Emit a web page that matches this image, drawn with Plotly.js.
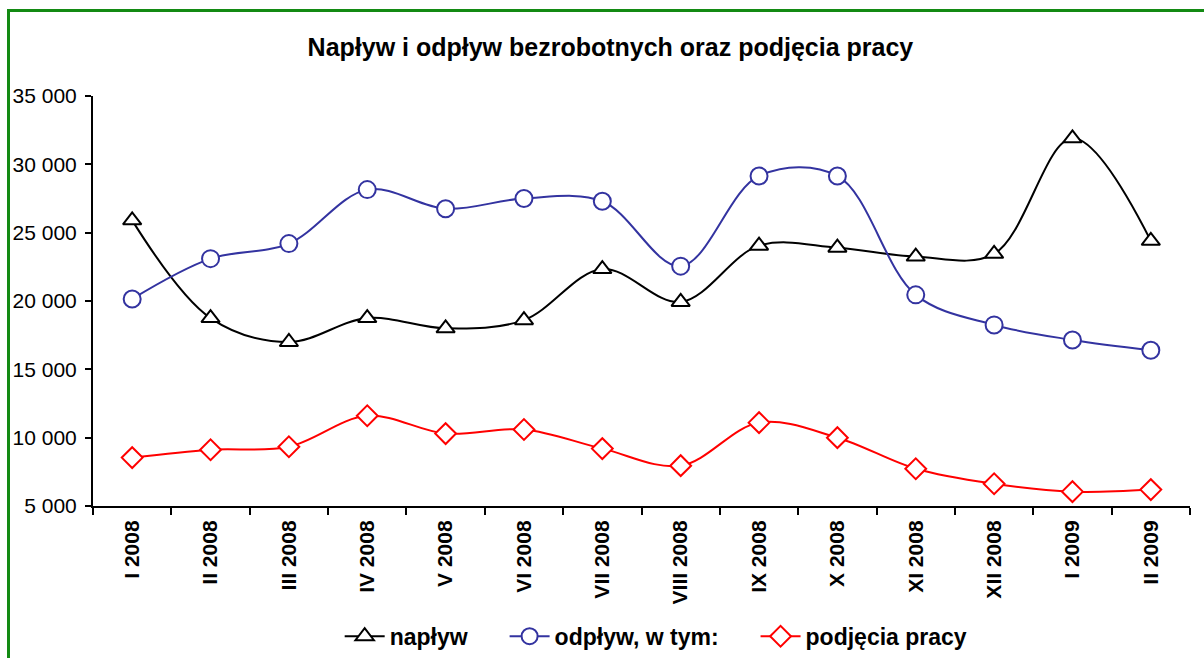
<!DOCTYPE html>
<html><head><meta charset="utf-8">
<script src="https://cdn.plot.ly/plotly-3.0.1.min.js"></script>
<style>
body{margin:0;padding:0;background:#fff;}
#frame{position:absolute;left:7px;top:9px;width:1300px;height:800px;border:3px solid #138a13;box-sizing:border-box;pointer-events:none;z-index:5;}
#chart{position:absolute;left:0;top:0;width:1204px;height:658px;}
</style></head>
<body>
<div id="chart"></div>
<div id="frame"></div>
<script>
const categories = ["I 2008","II 2008","III 2008","IV 2008","V 2008","VI 2008","VII 2008","VIII 2008","IX 2008","X 2008","XI 2008","XII 2008","I 2009","II 2009"];
const naplyw = [25900,18750,17000,18750,18000,18600,22340,19930,24050,23900,23250,23450,31900,24400];
const odplyw = [20150,23100,24200,28150,26750,27500,27300,22550,29150,29150,20450,18250,17150,16400];
const podjecia = [8540,9120,9340,11600,10300,10600,9200,7950,11100,10000,7730,6630,6050,6200];
const yTicks = [5000,10000,15000,20000,25000,30000,35000];
const seriesNames = ['napływ', 'odpływ, w tym:', 'podjęcia pracy'];

const SP = '&nbsp;&nbsp;&nbsp;&nbsp;&nbsp;';
function tr(name, y, color, symbol, size, last){
  return {x:categories, y:y, name:'<b>'+name+'</b>'+(last?'':SP), type:'scatter', mode:'lines+markers',
    line:{color:color, width:2, shape:'spline', smoothing:1},
    marker:{symbol:symbol, size:size, color:'#ffffff', line:{color:color, width:2}}};
}
const data = [
  tr(seriesNames[0], naplyw, '#000000', 'triangle-up', 16),
  tr(seriesNames[1], odplyw, '#3333a0', 'circle', 17),
  tr(seriesNames[2], podjecia, '#ff0000', 'diamond', 16, true)
];
const FONT = 'Liberation Sans, Arial, sans-serif';
const layout = {
  width:1204, height:658,
  margin:{l:93, r:14, t:96, b:152, autoexpand:false},
  paper_bgcolor:'#ffffff', plot_bgcolor:'#ffffff',
  separators:', ',
  font:{family:FONT, color:'#000'},
  title:{text:'<b>Napływ i odpływ bezrobotnych oraz podjęcia pracy</b>', x:0.507, xanchor:'center', y:0.928, yanchor:'middle', font:{size:25}},
  xaxis:{type:'category', range:[-0.5,13.5], tickson:'boundaries', ticks:'outside', ticklen:7, tickwidth:2, tickcolor:'#000',
    showline:true, linecolor:'#000', linewidth:2, showgrid:false, zeroline:false, tickangle:-90, automargin:false,
    tickfont:{size:21, family:FONT}, ticklabelstandoff:4,
    tickvals:categories, ticktext:categories.map(c=>'<b>'+c+'</b>')},
  yaxis:{range:[5000,35000], tickvals:yTicks, tickformat:',d', ticks:'outside', ticklen:6, tickwidth:2, tickcolor:'#000', automargin:false,
    showline:true, linecolor:'#000', linewidth:2, showgrid:false, zeroline:false, tickfont:{size:21}, ticklabelstandoff:4},
  legend:{orientation:'h', xref:'container', yref:'container', x:0.545, xanchor:'center', y:0.033, yanchor:'middle', bgcolor:'rgba(0,0,0,0)', font:{size:23, family:FONT}, itemwidth:40, traceorder:'normal'},
  showlegend:true
};
Plotly.newPlot('chart', data, layout, {displayModeBar:false, staticPlot:true});
</script>
</body></html>
